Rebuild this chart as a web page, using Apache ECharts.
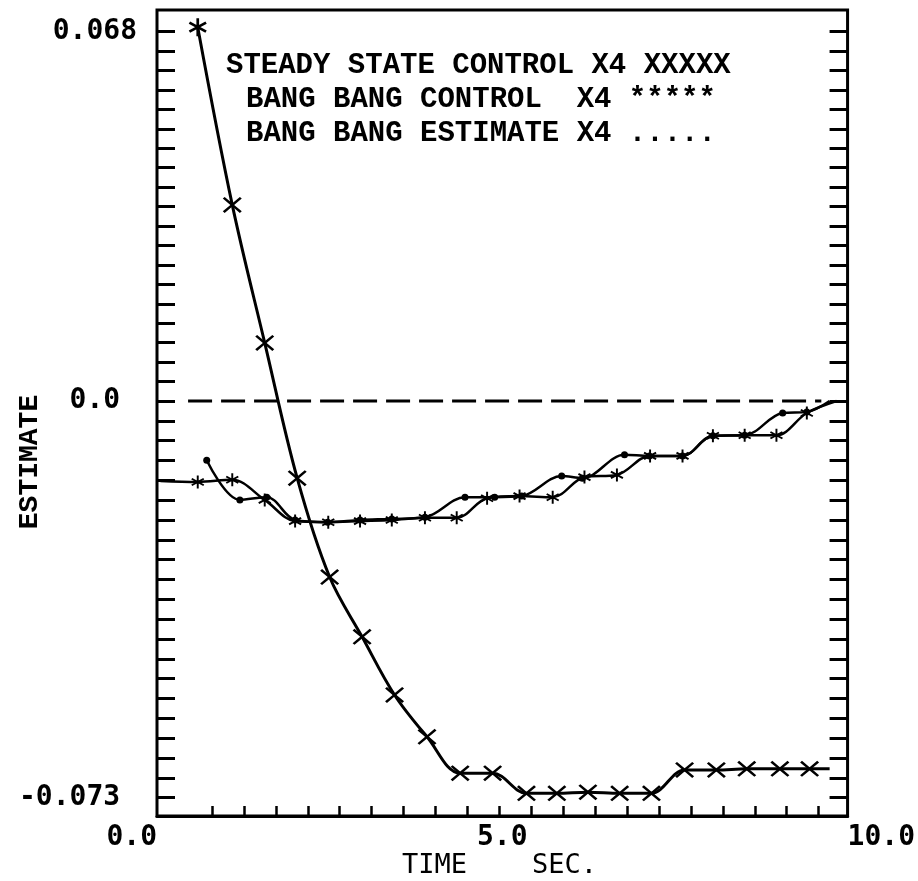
<!DOCTYPE html>
<html><head><meta charset="utf-8">
<script src="https://cdn.jsdelivr.net/npm/echarts@6/dist/echarts.min.js"></script>
<style>html,body{margin:0;padding:0;background:#fff}#c{width:918px;height:881px}</style>
</head><body><div id="c"></div>
<script>
// ---- data (time in sec, estimate value) ----
const steadyTime  = [0.59, 1.09, 1.56, 2.03, 2.50, 2.97, 3.44, 3.91, 4.39, 4.86, 5.35, 5.79, 6.24, 6.70, 7.16, 7.64, 8.10, 8.54, 9.02, 9.45, 9.74];
const steadyValue = [0.0688, 0.0361, 0.0107, -0.0142, -0.0324, -0.0434, -0.0541, -0.0618, -0.0685, -0.0685, -0.0722, -0.0722, -0.0720, -0.0722, -0.0722, -0.0679, -0.0679, -0.0677, -0.0677, -0.0677, -0.0677];
const controlTime  = [0.05, 0.59, 1.09, 1.56, 2.00, 2.48, 2.94, 3.40, 3.88, 4.34, 4.78, 5.25, 5.73, 6.19, 6.66, 7.14, 7.61, 8.05, 8.51, 8.97, 9.41, 9.84];
const controlValue = [-0.0147, -0.0149, -0.0145, -0.0182, -0.0221, -0.0223, -0.0221, -0.0219, -0.0215, -0.0215, -0.0179, -0.0175, -0.0177, -0.0140, -0.0136, -0.0101, -0.0101, -0.0064, -0.0063, -0.0063, -0.0022, 0.0];
const estimateTime  = [0.72, 1.20, 1.59, 2.00, 2.47, 2.94, 3.40, 3.88, 4.46, 4.89, 5.28, 5.86, 6.16, 6.77, 7.13, 7.61, 8.05, 8.51, 9.06, 9.41, 9.74];
const estimateValue = [-0.0109, -0.0182, -0.0177, -0.0219, -0.0223, -0.0219, -0.0217, -0.0214, -0.0177, -0.0177, -0.0175, -0.0138, -0.0142, -0.0099, -0.0101, -0.0101, -0.0064, -0.0063, -0.0022, -0.0020, 0.0];
const zeroLineTime  = [0.45, 9.62];
const zeroLineValue = [0.0, 0.0];
const xLabelValues = [0, 5, 10];
const xTickLabels  = ['0.0', '5.0', '10.0'];
const yLabelValues = [0.068, 0.0, -0.073];
const yTickLabels  = ['0.068', '0.0 ', '-0.073 '];
const legendLines  = ['STEADY STATE CONTROL X4 XXXXX', 'BANG BANG CONTROL  X4 *****', 'BANG BANG ESTIMATE X4 .....'];
const yAxisTitle = 'ESTIMATE';
const xAxisTitle = 'TIME    SEC.';

// ---- axis tick positions (derived from labels) ----
const yTicks = [];
for (let i = 0; i <= 19; i++) yTicks.push(0.068 * i / 19);
for (let i = 1; i <= 20; i++) yTicks.push(-0.073 * i / 20);
const xTicks = [];
for (let i = 0; i < 20; i++) xTicks.push(+(0.796 + 0.4624 * i).toFixed(4));

const X_SYM = 'path://M0,1L1,0L5,4L9,0L10,1L6,5L10,9L9,10L5,6L1,10L0,9L4,5Z';
const STAR_SYM = 'path://M4.3,0L5.7,0L5.7,10L4.3,10Z M1.02,1.89L9.68,6.89L8.98,8.11L0.32,3.11Z M0.32,6.89L8.98,1.89L9.68,3.11L1.02,8.11Z';

function pairs(t, v, hide, special) {
  return t.map((x, i) => {
    const d = { value: [x, v[i]] };
    if (hide && hide.includes(i)) d.symbol = 'none';
    if (special && special[i]) Object.assign(d, special[i]);
    return d;
  });
}

const chart = echarts.init(document.getElementById('c'), null, { renderer: 'canvas' });
const YMIN = -0.07638, YMAX = 0.07197;
const labelFont = { fontFamily: 'DejaVu Sans Mono', fontWeight: 'bold', fontSize: 28, color: '#000' };

chart.setOption({
  backgroundColor: '#fff',
  animation: false,
  grid: { left: 157, right: 70, top: 10, bottom: 65, show: true, borderColor: '#000', borderWidth: 3, backgroundColor: 'transparent' },
  xAxis: [{
    type: 'value', min: 0, max: 10, position: 'bottom',
    axisLine: { show: true, onZero: false, lineStyle: { color: '#000', width: 3 } },
    splitLine: { show: false },
    axisTick: { show: true, inside: true, length: 10, lineStyle: { color: '#000', width: 2.5 }, customValues: xTicks },
    axisLabel: Object.assign({ customValues: xLabelValues, margin: 8, alignMinLabel: 'right', alignMaxLabel: 'left',
      formatter: v => xTickLabels[xLabelValues.indexOf(v)] }, labelFont)
  }],
  yAxis: [{
    type: 'value', min: YMIN, max: YMAX, position: 'left',
    axisLine: { show: false, onZero: false },
    splitLine: { show: false },
    axisTick: { show: true, inside: true, length: 18, lineStyle: { color: '#000', width: 3 }, customValues: yTicks },
    axisLabel: Object.assign({ customValues: yLabelValues, margin: 20,
      formatter: v => { let k = 0, best = 1; yLabelValues.forEach((y, i) => { if (Math.abs(y - v) < best) { best = Math.abs(y - v); k = i; } }); return yTickLabels[k]; } }, labelFont)
  }, {
    type: 'value', min: YMIN, max: YMAX, position: 'right',
    axisLine: { show: false, onZero: false },
    splitLine: { show: false },
    axisTick: { show: true, inside: true, length: 18, lineStyle: { color: '#000', width: 3 }, customValues: yTicks },
    axisLabel: { show: false }
  }],
  graphic: [
    { type: 'text', x: 226, y: 66, style: { text: legendLines[0], font: 'bold 29px "Liberation Mono"', fill: '#000', verticalAlign: 'middle' } },
    { type: 'text', x: 246, y: 100, style: { text: legendLines[1], font: 'bold 29px "Liberation Mono"', fill: '#000', verticalAlign: 'middle' } },
    { type: 'text', x: 246, y: 134, style: { text: legendLines[2], font: 'bold 29px "Liberation Mono"', fill: '#000', verticalAlign: 'middle' } },
    { type: 'text', x: 30, y: 462, rotation: Math.PI / 2, style: { text: yAxisTitle, font: 'bold 28px "Liberation Mono"', fill: '#000', align: 'center', verticalAlign: 'middle' } },
    { type: 'text', x: 402, y: 866, style: { text: xAxisTitle, font: '27px "DejaVu Sans Mono"', fill: '#000', verticalAlign: 'middle' } }
  ],
  series: [
    { name: 'zero', type: 'line', data: pairs(zeroLineTime, zeroLineValue), symbol: 'none',
      lineStyle: { color: '#000', width: 3, type: [24, 9] }, silent: true },
    { name: 'STEADY STATE CONTROL X4', type: 'line',
      data: pairs(steadyTime, steadyValue, [steadyTime.length - 1], { 0: { symbol: STAR_SYM, symbolSize: 18 } }),
      smooth: 0.35, symbol: X_SYM, symbolSize: [19, 16], showAllSymbol: true,
      itemStyle: { color: '#000' }, lineStyle: { color: '#000', width: 3 } },
    { name: 'BANG BANG ESTIMATE X4', type: 'line', data: pairs(estimateTime, estimateValue, [estimateTime.length - 1]),
      smooth: 0.35, symbol: 'circle', symbolSize: 7, showAllSymbol: true,
      itemStyle: { color: '#000' }, lineStyle: { color: '#000', width: 2.5 } },
    { name: 'BANG BANG CONTROL X4', type: 'line', data: pairs(controlTime, controlValue, [0, controlTime.length - 1]),
      smooth: 0.35, symbol: STAR_SYM, symbolSize: 13, showAllSymbol: true,
      itemStyle: { color: '#000' }, lineStyle: { color: '#000', width: 2.5 } }
  ]
});
</script></body></html>
